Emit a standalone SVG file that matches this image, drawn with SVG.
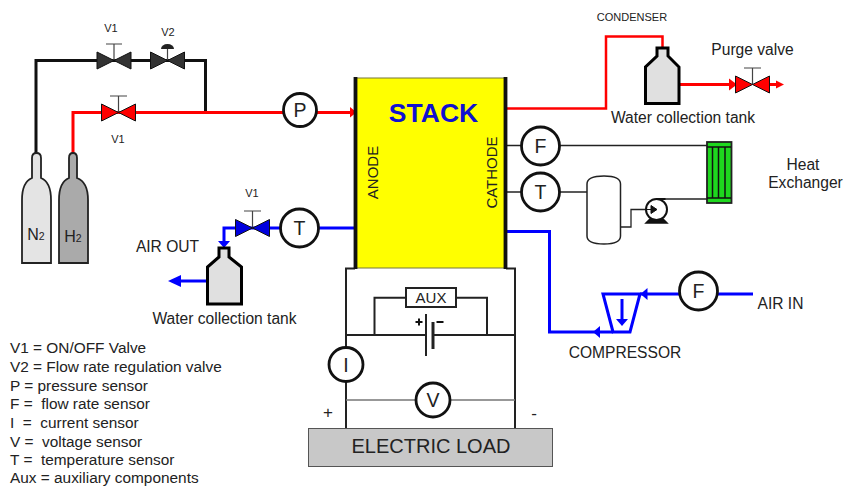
<svg xmlns="http://www.w3.org/2000/svg" width="843" height="486" viewBox="0 0 843 486">
<defs>
<style>
text{font-family:"Liberation Sans",Arial,sans-serif;fill:#222;white-space:pre}
.ln{fill:none;stroke-linejoin:miter}
.k{stroke:#111;stroke-width:3}
.r{stroke:#f00;stroke-width:3}
.b{stroke:#00f;stroke-width:3}
.t{stroke:#222;stroke-width:1.300}
.e{stroke:#222;stroke-width:2;fill:none}
.s{fill:#fff;stroke:#111;stroke-width:2.800}
.sl{font-size:19.500px;text-anchor:middle}
.vl{font-size:11px;text-anchor:middle}
.lb{font-size:15.600px;text-anchor:middle}
.lg{font-size:15.400px}
.tank{fill:#e0e0e0;stroke:#000;stroke-width:3}
</style>
<g id="val"><path d="M-17,-8.500 L0,0 L-17,8.500Z M17,-8.500 L0,0 L17,8.500Z" stroke="#111" stroke-width="1"/></g>
</defs>

<g id="connectors">
<path class="ln k" d="M36,153V60.500H205.500V112"/>
<path class="ln r" d="M73,153V112.500H350"/>
<path fill="#f00" d="M350,107l6.500,5.300l-6.500,5.300z"/>
<path class="ln r" d="M506,108.500H606V36.500H662.500V48" style="stroke-width:2.500"/>
<path class="ln r" d="M679,84.500H731"/>
<path fill="#f00" d="M729,78.500l8,6l-8,6z"/>
<path class="ln r" d="M768,84.500H778"/>
<path fill="#f00" d="M776,80.500l8,4l-8,4z"/>
<path class="ln t" d="M506,145.500H707"/>
<path class="ln t" d="M506,192H587"/>
<path class="ln t" d="M665,199H707"/>
<path class="ln t" d="M621,227H631V209.500H646"/>
<path class="ln b" d="M506,231.500H549.500V332H613"/>
<path class="ln b" d="M640,294H753"/>
<path class="ln b" d="M319,228H356"/>
<path class="ln b" d="M280,228H224V243"/>
<path class="ln b" d="M207,281H178"/>
<path fill="#00f" d="M181,275l-13,6l13,6z"/>
<path fill="#00f" d="M218,241h12l-6,7z"/>
<path fill="#00f" d="M600,326v12l-7-6z"/>
<path fill="#00f" d="M647.500,288v12l-7-6z"/>
<path class="ln e" d="M355,268.500H346V428"/>
<path class="ln e" d="M506,268.500H515V428"/>
<path class="ln e" d="M346,335H426M433,335H515"/>
<path class="ln e" d="M374.500,335V297.700H406M456,297.700H487V335"/>
<path class="ln" stroke="#777" stroke-width="1.300" d="M346,400H416M450,400H515"/>
</g>

<g id="stack">
<rect x="356" y="78" width="149" height="190" fill="#ff0" stroke="#77773a" stroke-width="1"/>
<path d="M355.500,77V269M505.500,77V269" stroke="#111" stroke-width="3.800" fill="none"/>
<text x="433.500" y="122" font-size="26.500" font-weight="bold" text-anchor="middle" style="fill:#1010d0">STACK</text>
<text transform="translate(378,172.500) rotate(-90)" font-size="15" text-anchor="middle">ANODE</text>
<text transform="translate(497,172.500) rotate(-90)" font-size="15" text-anchor="middle">CATHODE</text>
</g>

<g id="n2-cylinder">
<path d="M32,178V158Q32,153 36.500,153Q41,153 41,158V178Q51,182 51,200V263H22V200Q22,182 32,178Z" fill="#e4e4e4" stroke="#222" stroke-width="1.800"/>
<text x="36" y="240" font-size="16" text-anchor="middle">N<tspan font-size="10.500">2</tspan></text>
</g>
<g id="h2-cylinder">
<path d="M69,178V158Q69,153 73,153Q77,153 77,158V178Q88,182 88,200V263H59V200Q59,182 69,178Z" fill="#aaa" stroke="#222" stroke-width="1.800"/>
<text x="73" y="242" font-size="16" text-anchor="middle">H<tspan font-size="10.500">2</tspan></text>
</g>

<g id="valve-v1-n2" fill="#333">
<use href="#val" x="114" y="60.500"/>
<path d="M114,60V44M106,44H122" stroke="#444" stroke-width="1.200"/>
<text class="vl" x="111" y="31.500">V1</text>
</g>
<g id="valve-v2" fill="#333">
<use href="#val" x="167.500" y="60.500"/>
<path d="M167.500,60V49" stroke="#444" stroke-width="1.200"/>
<path d="M161,49a6.500,5 0 0 1 13,0z" fill="#222"/>
<text class="vl" x="168" y="36">V2</text>
</g>
<g id="valve-v1-h2" fill="#f00">
<use href="#val" x="118.500" y="112.500"/>
<path d="M118.500,112V96M110,96H127" stroke="#444" stroke-width="1.200"/>
<text class="vl" x="118" y="143">V1</text>
</g>
<g id="valve-v1-air" fill="#00d">
<use href="#val" x="252.500" y="228"/>
<path d="M252.500,227V211M244,211H261" stroke="#444" stroke-width="1.200"/>
<text class="vl" x="252" y="197">V1</text>
</g>
<g id="valve-purge" fill="#f00">
<use href="#val" x="752.500" y="84.500"/>
<path d="M752.500,84V68M744,68H761" stroke="#444" stroke-width="1.200"/>
<text class="lb" x="752.500" y="55">Purge valve</text>
</g>

<g id="sensor-p"><circle class="s" cx="300" cy="110" r="16.500"/><text class="sl" x="300" y="117">P</text></g>
<g id="sensor-f1"><circle class="s" cx="540.500" cy="146" r="19"/><text class="sl" x="540.500" y="153">F</text></g>
<g id="sensor-t1"><circle class="s" cx="540.500" cy="192" r="19"/><text class="sl" x="540.500" y="199">T</text></g>
<g id="sensor-t2"><circle class="s" cx="299.500" cy="228" r="19"/><text class="sl" x="299.500" y="235">T</text></g>
<g id="sensor-f2"><circle class="s" cx="698.500" cy="291" r="19"/><text class="sl" x="698.500" y="298">F</text></g>
<g id="sensor-i"><circle class="s" cx="346" cy="364.500" r="17"/><text class="sl" x="346" y="371.500">I</text></g>
<g id="sensor-v"><circle class="s" cx="433" cy="400" r="17"/><text class="sl" x="433" y="407">V</text></g>

<g id="tank-cathode">
<path class="tank" d="M657,48H668V56L679,67V103.500H645.500V67L657,56Z"/>
<text class="lb" x="683" y="123">Water collection tank</text>
</g>
<g id="tank-anode">
<path class="tank" d="M219,248H229V257L241.500,267V304H207.500V267L219,257Z"/>
<text class="lb" x="224.500" y="324">Water collection tank</text>
</g>
<text class="lb" x="167.500" y="251.500">AIR OUT</text>
<text x="632" y="21" font-size="11" text-anchor="middle">CONDENSER</text>

<g id="heat-exchanger">
<rect x="707" y="142" width="24.500" height="61" fill="#1ed81e" stroke="#222" stroke-width="1.800"/>
<path d="M707,147H731M707,198H731M712.500,147V198M718.500,147V198M725,147V198" stroke="#111" stroke-width="1.500" fill="none"/>
<text class="lb" x="803" y="170">Heat</text>
<text class="lb" x="805.500" y="188">Exchanger</text>
</g>

<g id="vessel">
<path d="M587,184Q587,176 604,176Q620.500,176 620.500,184V236Q620.500,244 604,244Q587,244 587,236Z" fill="#fff" stroke="#222" stroke-width="1.500"/>
</g>
<g id="pump">
<circle cx="656.500" cy="209.500" r="10.500" fill="#fff" stroke="#111" stroke-width="2"/>
<path d="M646,209.500h5M651,205.500l6,4l-6,4z" fill="#111" stroke="#111" stroke-width="1"/>
<path d="M656.500,199h9" stroke="#111" stroke-width="2"/>
<path d="M650,219l-4,4h21l-4-4" fill="#111" stroke="#111" stroke-width="1.500"/>
</g>

<g id="compressor">
<path d="M603,294H640L630,332H613Z" fill="#fff" stroke="#00f" stroke-width="3"/>
<path d="M622,299V320" stroke="#00f" stroke-width="3"/>
<path d="M616,319h12l-6,7z" fill="#00f"/>
<text class="lb" x="625" y="357.500">COMPRESSOR</text>
</g>
<text class="lb" x="780.500" y="309">AIR IN</text>

<g id="aux">
<rect x="406" y="288" width="50" height="19" fill="#fff" stroke="#222" stroke-width="2"/>
<text x="431" y="303" font-size="15" text-anchor="middle">AUX</text>
</g>
<g id="battery">
<path d="M426,314V356" stroke="#222" stroke-width="2"/>
<path d="M433,322V349" stroke="#222" stroke-width="3"/>
<path d="M415.500,322h7M419,318.500v7M436.500,322h7" stroke="#111" stroke-width="2"/>
</g>
<text x="328" y="418" font-size="17" text-anchor="middle">+</text>
<text x="534" y="419" font-size="17" text-anchor="middle">-</text>

<g id="electric-load">
<rect x="308.500" y="428.500" width="244" height="38" fill="#c8c8c8" stroke="#555" stroke-width="1"/>
<text x="431" y="453" font-size="20" text-anchor="middle">ELECTRIC LOAD</text>
</g>

<g id="legend">
<text class="lg" x="10" y="352.700">V1 = ON/OFF Valve</text>
<text class="lg" x="10" y="371.700">V2 = Flow rate regulation valve</text>
<text class="lg" x="10" y="390.500">P = pressure sensor</text>
<text class="lg" x="10" y="409.300">F =  flow rate sensor</text>
<text class="lg" x="10" y="427.700">I  =  current sensor</text>
<text class="lg" x="10" y="446.500">V =  voltage sensor</text>
<text class="lg" x="10" y="465">T =  temperature sensor</text>
<text class="lg" x="10" y="483.300">Aux = auxiliary components</text>
</g>
</svg>
